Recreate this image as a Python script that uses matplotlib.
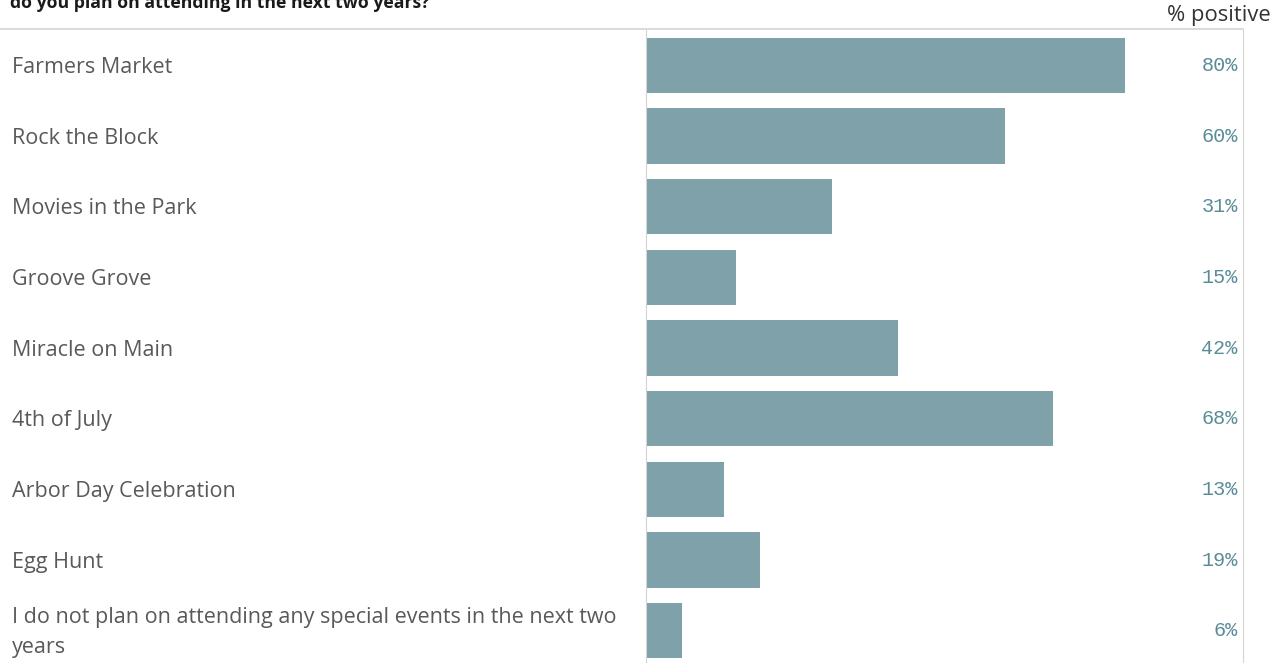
import matplotlib.pyplot as plt
from matplotlib.lines import Line2D
from matplotlib.transforms import blended_transform_factory

# survey data
events = ["Farmers Market", "Rock the Block", "Movies in the Park", "Groove Grove",
          "Miracle on Main", "4th of July", "Arbor Day Celebration", "Egg Hunt",
          "I do not plan on attending any special events in the next two\nyears"]
pct_positive = [80, 60, 31, 15, 42, 68, 13, 19, 6]
pct_labels = ["80%", "60%", "31%", "15%", "42%", "68%", "13%", "19%", "6%"]

W, H = 1279, 663
fig = plt.figure(figsize=(W / 100, H / 100), dpi=100)

x0, x1 = 646, 1245
y_top, y_bot = 30, 666
ax = fig.add_axes([x0 / W, 1 - y_bot / H, (x1 - x0) / W, (y_bot - y_top) / H])

ypos = list(range(len(events)))
ax.barh(ypos, pct_positive, height=0.78, color="#7fa1aa", zorder=2)
ax.set_ylim(len(events) - 0.5, -0.5)
ax.set_xlim(0, 100)
ax.set_xticks([])
ax.set_yticks([])
for s in ["top", "bottom"]:
    ax.spines[s].set_visible(False)
ax.spines["left"].set_color("#d4d4d4")
ax.spines["right"].set_color("#d4d4d4")
ax.spines["right"].set_position(("data", 99.65))

# value labels
for y, lab in zip(ypos, pct_labels):
    ax.text(98.8, y, lab, ha="right", va="center", fontsize=14.5,
            family="Liberation Mono", color="#5a8c98")

# category labels on the left
trans = blended_transform_factory(fig.transFigure, ax.transData)
for y, name in zip(ypos, events):
    ax.text(12 / W, y + 0.03, name, transform=trans, ha="left", va="center",
            fontsize=15.5, family="Open Sans", color="#595959", linespacing=1.55)

# top rule
fig.add_artist(Line2D([0, 1243 / W], [1 - 29 / H, 1 - 29 / H], color="#d4d4d4", lw=1.2))

fig.text(10 / W, 1 - 8 / H, "do you plan on attending in the next two years?", ha="left",
         va="baseline", fontsize=12.7, fontweight="bold", family="Open Sans", color="#1a1a1a")
fig.text(1271 / W, 1 - 16 / H, "% positive", ha="right", va="center", fontsize=15.8,
         family="Open Sans", color="#333333")

fig.savefig("out.png", dpi=100)
